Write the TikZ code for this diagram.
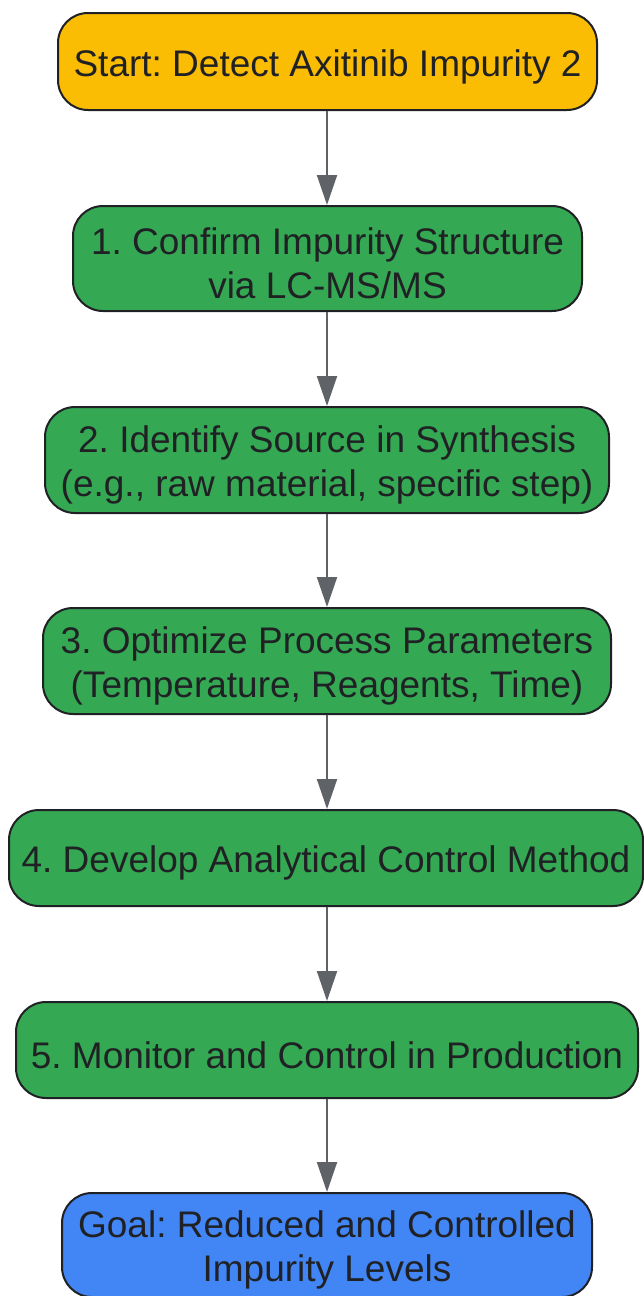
\documentclass[tikz,border=0pt]{standalone}
\usepackage{fontspec}
\setmainfont{Liberation Sans}
\usetikzlibrary{arrows.meta}
\definecolor{cyellow}{HTML}{FBBC04}
\definecolor{cgreen}{HTML}{34A853}
\definecolor{cblue}{HTML}{4285F4}
\definecolor{cedge}{HTML}{202124}
\definecolor{carrow}{HTML}{5F6368}
\tikzset{
  box/.style={draw=cedge, line width=2pt, rounded corners=30pt, inner sep=0pt},
  label text/.style={align=center, text=cedge, inner sep=0pt, yshift=-5pt,
    font=\fontsize{37}{43.5}\selectfont},
  flow/.style={draw=carrow, line width=2pt, -{Triangle[length=30pt,width=20pt]}}
}
\frenchspacing
\begin{document}
\begin{tikzpicture}[x=1pt,y=-1pt]
\useasboundingbox (0,0) rectangle (644,1296);
\node[box, fill=cyellow, minimum width=539pt, minimum height=97pt] (s) at (327.5,61.5) {};
\node[label text] (ts) at (s.center) {Start: Detect Axitinib Impurity 2};
\node[box, fill=cgreen, minimum width=509pt, minimum height=105pt] (n1) at (327.5,258.5) {};
\node[label text] (t1) at (n1.center) {1. Confirm Impurity Structure\\via LC-MS/MS};
\node[box, fill=cgreen, minimum width=564pt, minimum height=106pt] (n2) at (327,460) {};
\node[label text] (t2) at (n2.center) {2. Identify Source in Synthesis\\(e.g., raw material, specific step)};
\node[box, fill=cgreen, minimum width=568pt, minimum height=106pt] (n3) at (327,661) {};
\node[label text] (t3) at (n3.center) {3. Optimize Process Parameters\\(Temperature, Reagents, Time)};
\node[box, fill=cgreen, minimum width=634pt, minimum height=96pt] (n4) at (326,858) {};
\node[label text] (t4) at (n4.center) {4. Develop Analytical Control Method};
\node[box, fill=cgreen, minimum width=622pt, minimum height=96pt] (n5) at (327,1050) {};
\node[label text] (t5) at (n5.center) {5. Monitor and Control in Production};
\node[box, fill=cblue, minimum width=530pt, minimum height=104pt] (g) at (327,1245) {};
\node[label text] (tg) at (g.center) {Goal: Reduced and Controlled\\Impurity Levels};
\draw[flow] (s.south -| 327,0) -- (n1.north -| 327,0);
\draw[flow] (n1.south -| 327,0) -- (n2.north -| 327,0);
\draw[flow] (n2.south -| 327,0) -- (n3.north -| 327,0);
\draw[flow] (n3.south -| 327,0) -- (n4.north -| 327,0);
\draw[flow] (n4.south -| 327,0) -- (n5.north -| 327,0);
\draw[flow] (n5.south -| 327,0) -- (g.north -| 327,0);
\end{tikzpicture}
\end{document}
